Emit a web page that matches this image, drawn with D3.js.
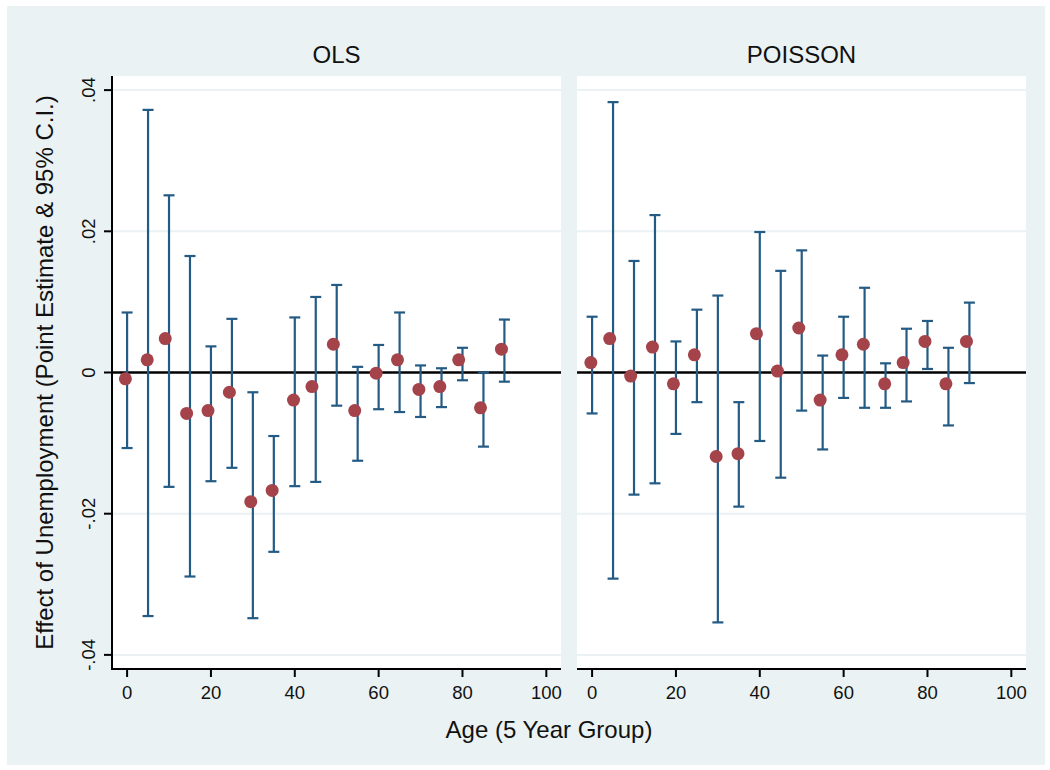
<!DOCTYPE html>
<html lang="en">
<head>
    <title>Effect of Unemployment by Age</title>
    <script src="https://d3js.org/d3.v7.min.js"></script>
    <style>
        body {
            margin: 0;
            background: white;
        }
        * {
            font-family: "Liberation Sans", Arial, Helvetica, sans-serif;
        }
        .tick-label {
            font-size: 18.5px;
            fill: #111;
        }
        .panel-title, .axis-title {
            font-size: 24px;
            fill: #111;
            text-anchor: middle;
        }
    </style>
</head>
<body>
<svg class="chart"></svg>

<script>
    // age groups (where the confidence bars sit)
    const ages = [0, 5, 10, 15, 20, 25, 30, 35, 40, 45, 50, 55, 60, 65, 70, 75, 80, 85, 90];

    // OLS panel
    const olsMarkerAge = [-0.4, 4.8, 9.1, 14.2, 19.3, 24.4, 29.5, 34.6, 39.7, 44.1, 49.2, 54.3, 59.4, 64.5, 69.6, 74.6, 79.1, 84.3, 89.3];
    const olsEstimate = [-0.0009, 0.0018, 0.0048, -0.0058, -0.0054, -0.0028, -0.0183, -0.0167, -0.0039, -0.0020,
                         0.0040, -0.0054, -0.0001, 0.0018, -0.0024, -0.0020, 0.0018, -0.0050, 0.0033];
    const olsLower = [-0.0107, -0.0345, -0.0162, -0.0289, -0.0154, -0.0135, -0.0348, -0.0254, -0.0161, -0.0155,
                      -0.0047, -0.0125, -0.0052, -0.0056, -0.0063, -0.0049, -0.0011, -0.0105, -0.0013];
    const olsUpper = [0.0085, 0.0372, 0.0251, 0.0165, 0.0037, 0.0076, -0.0028, -0.0090, 0.0078, 0.0107,
                      0.0124, 0.0008, 0.0039, 0.0085, 0.0010, 0.0006, 0.0035, 0.0000, 0.0075];

    // POISSON panel
    const poisMarkerAge = [-0.3, 4.2, 9.2, 14.4, 19.4, 24.4, 29.6, 34.8, 39.2, 44.2, 49.3, 54.4, 59.6, 64.7, 69.8, 74.2, 79.4, 84.4, 89.3];
    const poisEstimate = [0.0014, 0.0048, -0.0005, 0.0036, -0.0016, 0.0025, -0.0119, -0.0115, 0.0055, 0.0002,
                          0.0063, -0.0039, 0.0025, 0.0040, -0.0016, 0.0014, 0.0044, -0.0016, 0.0044];
    const poisLower = [-0.0058, -0.0292, -0.0173, -0.0157, -0.0087, -0.0042, -0.0354, -0.0190, -0.0097, -0.0149,
                       -0.0054, -0.0109, -0.0036, -0.0050, -0.0050, -0.0041, 0.0005, -0.0075, -0.0015];
    const poisUpper = [0.0079, 0.0383, 0.0158, 0.0223, 0.0044, 0.0089, 0.0109, -0.0042, 0.0199, 0.0144,
                       0.0173, 0.0024, 0.0079, 0.0120, 0.0013, 0.0062, 0.0073, 0.0035, 0.0099];

    const xTicks = [0, 20, 40, 60, 80, 100];
    const yTicks = [-0.04, -0.02, 0, 0.02, 0.04];
    const yTickLabels = ["-.04", "-.02", "0", ".02", ".04"];

    const panels = [
        {title: "OLS", left: 112, axis: true, markerAge: olsMarkerAge, est: olsEstimate, lo: olsLower, hi: olsUpper},
        {title: "POISSON", left: 577, axis: false, markerAge: poisMarkerAge, est: poisEstimate, lo: poisLower, hi: poisUpper}
    ];

    const width = 1050, height = 770;
    const plot = {top: 76, bottom: 669, width: 449};

    const bg = "#eaf2f3";
    const barColor = "#245b85";
    const dotColor = "#a4444a";

    const svg = d3.select("svg.chart")
        .attr("width", width)
        .attr("height", height);

    svg.append("rect")
        .attr("x", 7).attr("y", 6)
        .attr("width", 1038).attr("height", 759)
        .attr("fill", bg);

    const y = d3.scaleLinear()
        .domain([-0.042, 0.042])
        .range([plot.bottom, plot.top]);

    panels.forEach(function(p) {
        const x = d3.scaleLinear()
            .domain([-3.6, 103.5])
            .range([p.left, p.left + plot.width]);

        const g = svg.append("g");

        // white plot region
        g.append("rect")
            .attr("x", p.left).attr("y", plot.top)
            .attr("width", plot.width).attr("height", plot.bottom - plot.top)
            .attr("fill", "white");

        // gridlines
        g.selectAll("line.grid")
            .data(yTicks.filter(d => d !== 0))
            .enter().append("line").attr("class", "grid")
            .attr("x1", p.left).attr("x2", p.left + plot.width)
            .attr("y1", d => y(d)).attr("y2", d => y(d))
            .attr("stroke", bg)
            .attr("stroke-width", 2);

        // zero line
        g.append("line")
            .attr("x1", p.left).attr("x2", p.left + plot.width)
            .attr("y1", y(0)).attr("y2", y(0))
            .attr("stroke", "black")
            .attr("stroke-width", 2.4);

        // confidence intervals
        const rows = ages.map((a, i) => ({age: a, mAge: p.markerAge[i], est: p.est[i], lo: p.lo[i], hi: p.hi[i]}));
        const cap = 5.5;

        const ci = g.selectAll("g.ci")
            .data(rows)
            .enter().append("g").attr("class", "ci")
            .attr("stroke", barColor)
            .attr("stroke-width", 2.2);

        ci.append("line")
            .attr("x1", d => x(d.age)).attr("x2", d => x(d.age))
            .attr("y1", d => y(d.lo)).attr("y2", d => y(d.hi));
        ci.append("line")
            .attr("x1", d => x(d.age) - cap).attr("x2", d => x(d.age) + cap)
            .attr("y1", d => y(d.hi)).attr("y2", d => y(d.hi));
        ci.append("line")
            .attr("x1", d => x(d.age) - cap).attr("x2", d => x(d.age) + cap)
            .attr("y1", d => y(d.lo)).attr("y2", d => y(d.lo));

        // point estimates
        g.selectAll("circle.est")
            .data(rows)
            .enter().append("circle").attr("class", "est")
            .attr("cx", d => x(d.mAge))
            .attr("cy", d => y(d.est))
            .attr("r", 6.5)
            .attr("fill", dotColor);

        // x axis
        g.append("line")
            .attr("x1", p.left).attr("x2", p.left + plot.width)
            .attr("y1", plot.bottom).attr("y2", plot.bottom)
            .attr("stroke", "black").attr("stroke-width", 2);

        g.selectAll("line.xtick")
            .data(xTicks)
            .enter().append("line").attr("class", "xtick")
            .attr("x1", d => x(d)).attr("x2", d => x(d))
            .attr("y1", plot.bottom).attr("y2", plot.bottom + 8)
            .attr("stroke", "black").attr("stroke-width", 2);

        g.selectAll("text.xlabel")
            .data(xTicks)
            .enter().append("text").attr("class", "tick-label")
            .attr("x", d => x(d))
            .attr("y", 699)
            .attr("text-anchor", "middle")
            .text(d => d);

        // y axis only on the first panel
        if (p.axis) {
            g.append("line")
                .attr("x1", p.left).attr("x2", p.left)
                .attr("y1", plot.top).attr("y2", plot.bottom + 1)
                .attr("stroke", "black").attr("stroke-width", 2);

            g.selectAll("line.ytick")
                .data(yTicks)
                .enter().append("line").attr("class", "ytick")
                .attr("x1", p.left - 8).attr("x2", p.left)
                .attr("y1", d => y(d)).attr("y2", d => y(d))
                .attr("stroke", "black").attr("stroke-width", 2);

            g.selectAll("text.ylabel")
                .data(yTicks)
                .enter().append("text").attr("class", "tick-label")
                .attr("transform", d => `translate(95,${y(d)}) rotate(-90)`)
                .attr("text-anchor", "middle")
                .text((d, i) => yTickLabels[i]);
        }

        // panel title
        svg.append("text").attr("class", "panel-title")
            .attr("x", p.left + plot.width / 2)
            .attr("y", 63)
            .text(p.title);
    });

    // axis titles
    svg.append("text").attr("class", "axis-title")
        .attr("x", 549)
        .attr("y", 738)
        .text("Age (5 Year Group)");

    svg.append("text").attr("class", "axis-title")
        .attr("transform", `translate(53,${y(0)}) rotate(-90)`)
        .text("Effect of Unemployment (Point Estimate & 95% C.I.)");
</script>
</body>
</html>
